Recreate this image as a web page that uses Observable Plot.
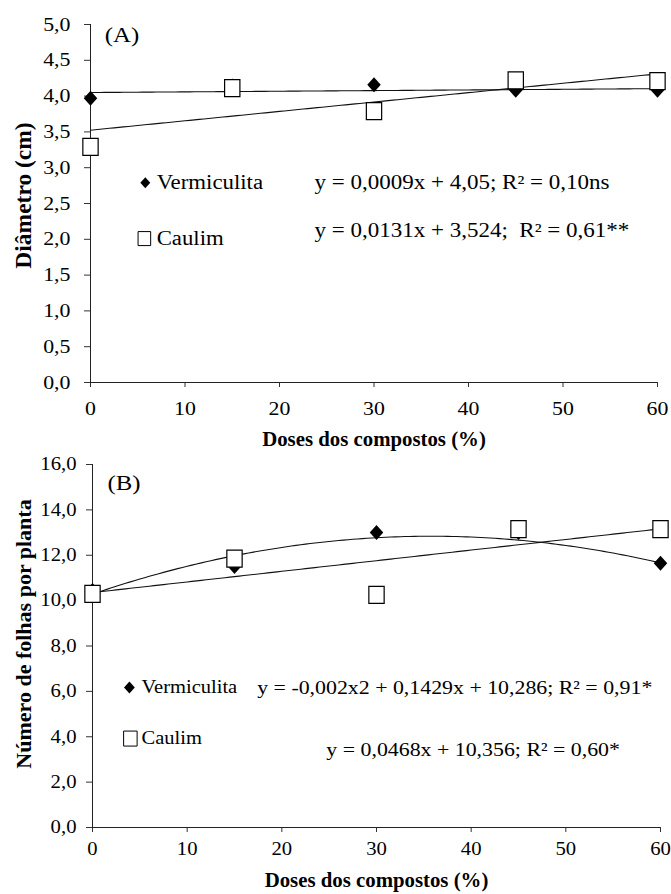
<!DOCTYPE html>
<html>
<head>
<meta charset="utf-8">
<script src="https://cdn.jsdelivr.net/npm/d3@7"></script>
<script src="https://cdn.jsdelivr.net/npm/@observablehq/plot@0.6"></script>
<style>
  html, body { margin: 0; padding: 0; background: #fff; }
  #chart svg { display: block; overflow: visible; font-family: "Liberation Serif", "Times New Roman", serif !important; font-size: 19px; }
  #chart svg text { font-family: "Liberation Serif", "Times New Roman", serif !important; }
</style>
</head>
<body>
<div id="chart"></div>
<script>
// ---- data ----
const doses = [0, 15, 30, 45, 60];
const series = ["Vermiculita", "Caulim"];
const diamVermiculita = [3.97, 4.14, 4.16, 4.08, 4.08];
const diamCaulim = [3.29, 4.11, 3.79, 4.22, 4.21];
const folhasVermiculita = [10.45, 11.5, 13.0, 13.0, 11.65];
const folhasCaulim = [10.3, 11.85, 10.25, 13.15, 13.15];
// regression coefficients [a (x²), b (x), c] as printed on the chart
const fitDiamVermiculita = [0, 0.0009, 4.05];
const fitDiamCaulim = [0, 0.0131, 3.524];
const fitFolhasVermiculita = [-0.002, 0.1429, 10.286];
const fitFolhasCaulim = [0, 0.0468, 10.356];
const eqA = ["y = 0,0009x + 4,05; R² = 0,10ns", "y = 0,0131x + 3,524;  R² = 0,61**"];
const eqB = ["y = -0,002x2 + 0,1429x + 10,286; R² = 0,91*", "y = 0,0468x + 10,356; R² = 0,60*"];
const xTicks = [0, 10, 20, 30, 40, 50, 60];
const yTicksA = [0, 0.5, 1, 1.5, 2, 2.5, 3, 3.5, 4, 4.5, 5];
const yTicksB = [0, 2, 4, 6, 8, 10, 12, 14, 16];
const panelLabels = ["(A)", "(B)"];
const xTitle = "Doses dos compostos (%)";
const yTitles = ["Diâmetro (cm)", "Número de folhas por planta"];

// ---- helpers ----
const fmt = d => d.toFixed(1).replace(".", ",");
const diamondSym = {draw(ctx, size) { const r = Math.sqrt(size / Math.PI); const w = r * 0.9;
  ctx.moveTo(0, -r); ctx.lineTo(w, 0); ctx.lineTo(0, r); ctx.lineTo(-w, 0); ctx.closePath(); }};
const squareSym = {draw(ctx, size) { const r = Math.sqrt(size / Math.PI); const w = r * 0.9;
  ctx.moveTo(-w, -r); ctx.lineTo(w, -r); ctx.lineTo(w, r); ctx.lineTo(-w, r); ctx.closePath(); }};
const pts = ys => doses.map((x, i) => ({x, y: ys[i]}));
const curve = c => d3.range(0, 60.001, 0.5).map(x => ({x, y: c[0] * x * x + c[1] * x + c[2]}));

function panel(opt) {
  const {height, marginTop, marginBottom, marginLeft, marginRight, yDomain, yTicks, tickPadY, tickPadX,
         vData, cData, vFit, cFit, label, labelPos, yTitle, legend, eqs, eqPos, fs} = opt;
  return Plot.plot({
    width: 671, height, marginTop, marginBottom, marginLeft, marginRight,
    style: {color: "#000", background: "#fff"},
    x: {domain: [0, 60]},
    y: {domain: yDomain},
    marks: [
      Plot.axisY({ticks: yTicks, tickFormat: fmt, tickSize: 6, tickPadding: tickPadY, label: null, stroke: "#333", fontSize: fs.tick}),
      Plot.axisX({ticks: xTicks, tickSize: 5, tickPadding: tickPadX, label: null, stroke: "#333", fontSize: fs.tick}),
      Plot.ruleX([0], {stroke: "#222"}),
      Plot.ruleY([0], {stroke: "#222"}),
      Plot.line(curve(vFit), {x: "x", y: "y", stroke: "#111", strokeWidth: 1.1}),
      Plot.line(curve(cFit), {x: "x", y: "y", stroke: "#111", strokeWidth: 1.1}),
      Plot.dot(pts(vData), {x: "x", y: "y", symbol: diamondSym, r: 7.5, fill: "#000", stroke: "none"}),
      Plot.dot(pts(cData), {x: "x", y: "y", symbol: squareSym, r: 8.5, fill: "#fff", stroke: "#000", strokeWidth: 1.2}),
      // legend
      Plot.dot([legend[0]], {x: "x", y: "y", symbol: diamondSym, r: fs.legDiamond, fill: "#000", stroke: "none"}),
      Plot.dot([legend[1]], {x: "x", y: "y", symbol: squareSym, r: fs.legSquare, fill: "#fff", stroke: "#000", strokeWidth: 1}),
      Plot.text(legend, {x: "tx", y: "y", text: (d, i) => series[i], textAnchor: "start", fontSize: fs.legend}),
      Plot.text(eqPos, {x: "x", y: "y", text: (d, i) => eqs[i], textAnchor: "start", fontSize: fs.eq}),
      Plot.text([label], {x: labelPos[0], y: labelPos[1], text: d => d, textAnchor: "start", fontSize: 22}),
      Plot.text([xTitle], {frameAnchor: "bottom", dy: opt.xTitleDy, lineAnchor: "middle", textAnchor: "middle", text: d => d, fontWeight: "bold", fontSize: 20}),
      Plot.text([yTitle], {frameAnchor: "left", dx: opt.yTitleDx, dy: opt.yTitleDy, rotate: -90, textAnchor: "middle", lineAnchor: "middle", text: d => d, fontWeight: "bold", fontSize: fs.ytitle})
    ]
  });
}

const topPanel = panel({
  height: 450, marginTop: 24, marginBottom: 68, marginLeft: 90, marginRight: 14,
  yDomain: [0, 5], yTicks: yTicksA, tickPadY: 14, tickPadX: 14,
  vData: diamVermiculita, cData: diamCaulim, vFit: fitDiamVermiculita, cFit: fitDiamCaulim,
  label: panelLabels[0], labelPos: [1.5, 4.85], yTitle: yTitles[0],
  legend: [{x: 5.8, tx: 7.0, y: 2.79}, {x: 5.7, tx: 7.0, y: 2.01}],
  eqs: eqA, eqPos: [{x: 23.7, y: 2.79}, {x: 23.7, y: 2.12}],
  xTitleDy: 57, yTitleDx: -67, yTitleDy: -8,
  fs: {tick: 19, legend: 20, eq: 20, ytitle: 23.5, legDiamond: 5.5, legSquare: 7}
});
const bottomPanel = panel({
  height: 444, marginTop: 14, marginBottom: 67, marginLeft: 92, marginRight: 11,
  yDomain: [0, 16], yTicks: yTicksB, tickPadY: 10, tickPadX: 10,
  vData: folhasVermiculita, cData: folhasCaulim, vFit: fitFolhasVermiculita, cFit: fitFolhasCaulim,
  label: panelLabels[1], labelPos: [1.58, 15.2], yTitle: yTitles[1],
  legend: [{x: 3.9, tx: 5.18, y: 6.17}, {x: 4.0, tx: 5.18, y: 3.92}],
  eqs: eqB, eqPos: [{x: 17.4, y: 6.17}, {x: 24.7, y: 3.44}],
  xTitleDy: 53, yTitleDx: -69, yTitleDy: -12,
  fs: {tick: 18, legend: 18, eq: 19, ytitle: 22, legDiamond: 6, legSquare: 7.5}
});
const chart = document.getElementById("chart");
chart.append(topPanel, bottomPanel);

// The reference typesetting is a little wider than the font's natural advance:
// stretch the horizontal texts' glyphs (the rotated y titles are left as they are).
function stretchFactor(s) {
  if (/^\d+(,\d)?$/.test(s)) return 1.15;          // tick labels
  if (series.includes(s)) return 1.14;              // legend
  if (eqA.includes(s) || eqB.includes(s)) return 1.15;
  if (panelLabels.includes(s)) return 1.13;
  if (s === xTitle) return 1.04;
  return 1;
}
for (const svg of [topPanel, bottomPanel]) {
  svg.querySelectorAll("text").forEach(t => {
    const k = stretchFactor(t.textContent.trim());
    if (k === 1) return;
    const len = t.getComputedTextLength();
    if (len > 0) {
      t.setAttribute("textLength", (len * k).toFixed(1));
      t.setAttribute("lengthAdjust", "spacingAndGlyphs");
    }
  });
}
</script>
</body>
</html>
